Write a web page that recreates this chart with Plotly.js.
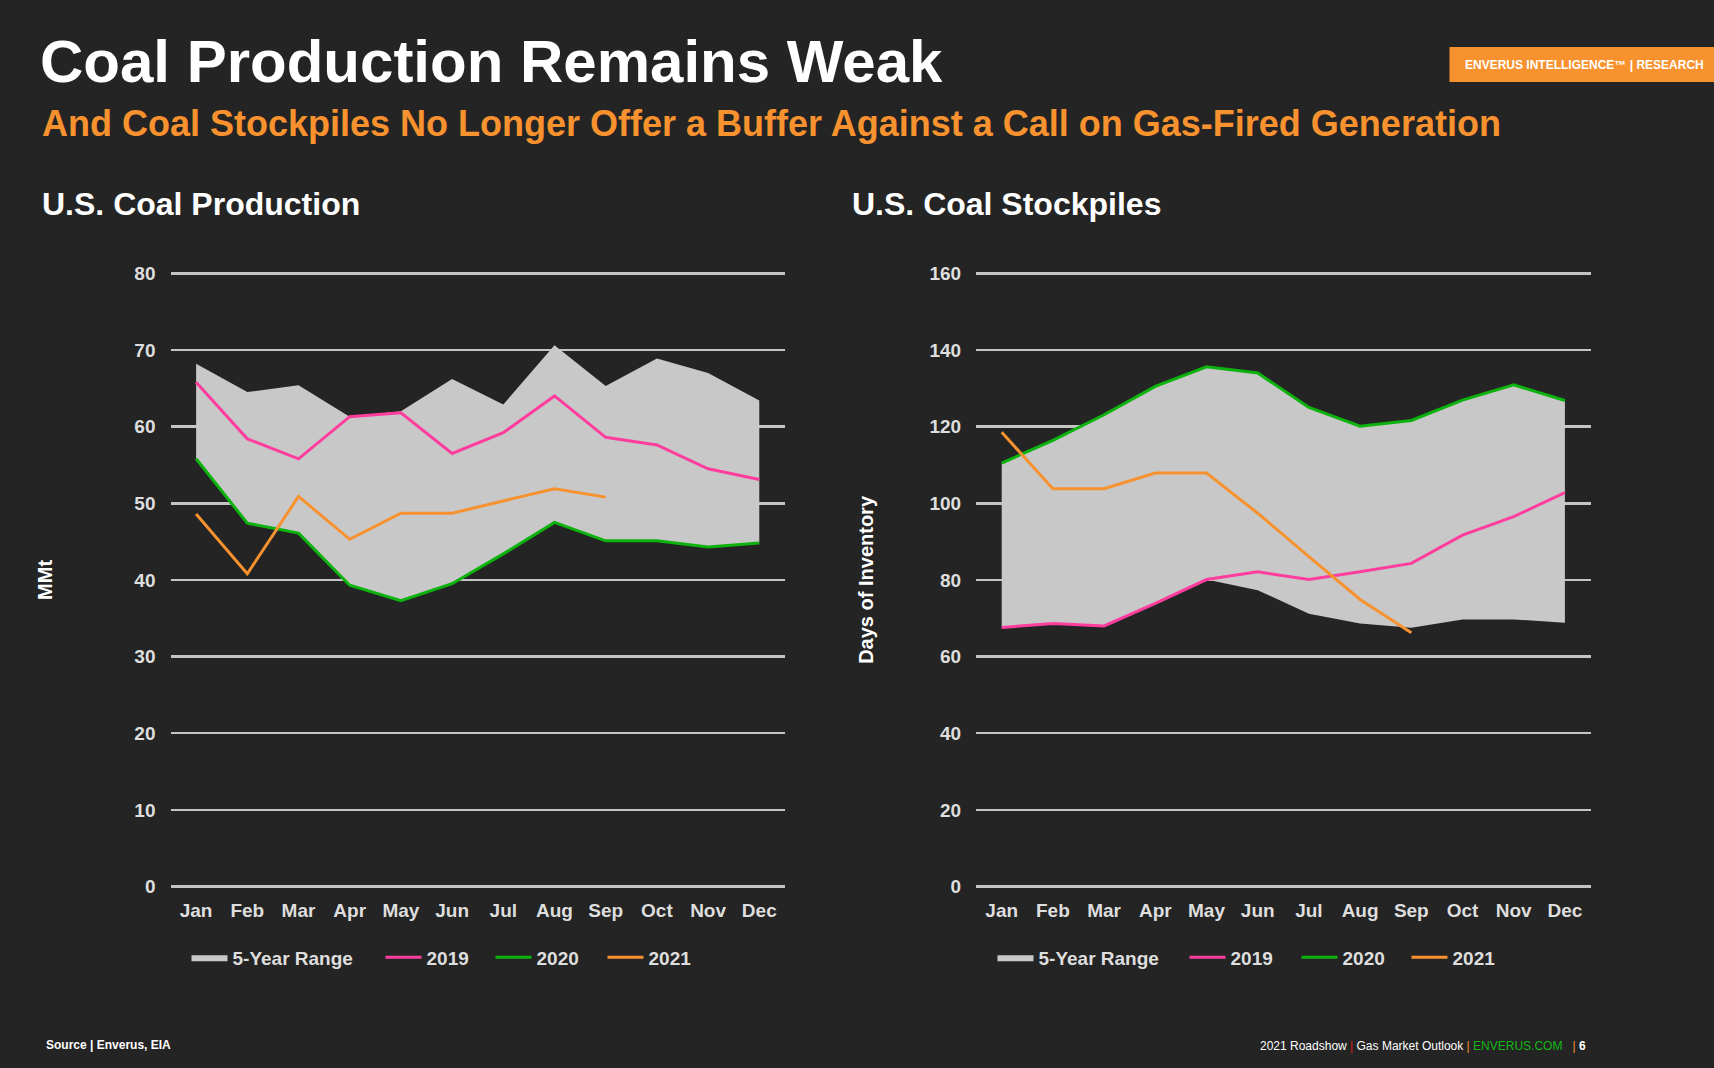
<!DOCTYPE html>
<html>
<head>
<meta charset="utf-8">
<script src="https://cdn.plot.ly/plotly-3.0.1.min.js"></script>
<style>
  html, body { margin: 0; padding: 0; background: #242424; }
  #chart { width: 1714px; height: 1068px; }
</style>
</head>
<body>
<div id="chart"></div>
<script>
// ---------- data ----------
const months = ['Jan','Feb','Mar','Apr','May','Jun','Jul','Aug','Sep','Oct','Nov','Dec'];

// U.S. Coal Production (MMt)
const prodRangeMin = [55.8, 47.4, 46.1, 39.3, 37.3, 39.5, 43.4, 47.5, 45.1, 45.1, 44.3, 44.8];
const prodRangeMax = [68.2, 64.5, 65.4, 61.3, 62.0, 66.2, 62.9, 70.6, 65.3, 68.9, 67.0, 63.4];
const prod2019 = [65.8, 58.4, 55.8, 61.3, 61.8, 56.5, 59.2, 64.0, 58.6, 57.6, 54.5, 53.1];
const prod2020 = [55.8, 47.4, 46.1, 39.3, 37.3, 39.5, 43.4, 47.5, 45.1, 45.1, 44.3, 44.8];
const prod2021 = [48.6, 40.8, 50.9, 45.3, 48.7, 48.7, 50.3, 51.9, 50.8];

// U.S. Coal Stockpiles (Days of Inventory)
const stockRangeMin = [67.6, 68.6, 68.0, 73.9, 80.1, 77.3, 71.2, 68.6, 67.5, 69.7, 69.7, 68.8];
const stockRangeMax = [110.5, 116.4, 123.1, 130.5, 135.6, 134.0, 125.0, 120.1, 121.6, 126.9, 130.9, 126.8];
const stock2019 = [67.6, 68.6, 68.0, 73.9, 80.1, 82.1, 80.1, 82.1, 84.3, 91.7, 96.5, 102.8];
const stock2020 = [110.5, 116.4, 123.1, 130.5, 135.6, 134.0, 125.0, 120.1, 121.6, 126.9, 130.9, 126.8];
const stock2021 = [118.5, 103.8, 103.8, 107.9, 107.9, 97.4, 86.1, 74.9, 66.2];

const prodTicks = [0, 10, 20, 30, 40, 50, 60, 70, 80];
const stockTicks = [0, 20, 40, 60, 80, 100, 120, 140, 160];
const seriesNames = ['5-Year Range', '2019', '2020', '2021'];

// ---------- styles ----------
const BG = '#242424';
const GRID = '#c4c4c4';
const RANGE = '#c8c8c8';
const PINK = '#ff3d9e';
const GREEN = '#0db30d';
const ORANGE = '#f7922f';
const FONT = 'Liberation Sans, Arial, sans-serif';
const TICKCOL = '#dedede';

function seriesTraces(xa, ya, legs, rmin, rmax, s19, s20, s21) {
  return [
    { x: months, y: rmin, xaxis: xa, yaxis: ya, type: 'scatter', mode: 'lines',
      line: { width: 0, color: RANGE }, showlegend: false, hoverinfo: 'skip' },
    { x: months, y: rmax, xaxis: xa, yaxis: ya, type: 'scatter', mode: 'lines',
      name: seriesNames[0], fill: 'tonexty', fillcolor: RANGE,
      line: { width: 0, color: RANGE }, legend: legs[0] },
    { x: months, y: s19, xaxis: xa, yaxis: ya, type: 'scatter', mode: 'lines',
      name: seriesNames[1], line: { color: PINK, width: 3 }, legend: legs[1] },
    { x: months, y: s20, xaxis: xa, yaxis: ya, type: 'scatter', mode: 'lines',
      name: seriesNames[2], line: { color: GREEN, width: 3 }, legend: legs[2] },
    { x: months.slice(0, s21.length), y: s21, xaxis: xa, yaxis: ya, type: 'scatter', mode: 'lines',
      name: seriesNames[3], line: { color: ORANGE, width: 3 }, legend: legs[3] }
  ];
}

const data = [].concat(
  seriesTraces('x', 'y', ['legend', 'legend2', 'legend3', 'legend4'], prodRangeMin, prodRangeMax, prod2019, prod2020, prod2021),
  seriesTraces('x2', 'y2', ['legend5', 'legend6', 'legend7', 'legend8'], stockRangeMin, stockRangeMax, stock2019, stock2020, stock2021)
);

// plot area: value 0 at y=886.5px, top tick at y=273.3px; half a unit padding so edge gridlines show
const yDomain = [0.16636, 0.74768];

function xAxis(domain, anchor) {
  return {
    domain: domain, anchor: anchor, type: 'category', range: [-0.5, 11.5],
    showgrid: false, zeroline: false, showline: false, ticks: '',
    tickfont: { family: FONT, size: 19, color: TICKCOL, weight: 'bold' },
    ticklabelstandoff: 7, fixedrange: true
  };
}
function yAxis(domain, anchor, range, ticks, title, standoff) {
  return {
    domain: domain, anchor: anchor, range: range, tickvals: ticks, ticktext: ticks.map(String),
    showgrid: true, gridcolor: GRID, gridwidth: 2.5, zeroline: false, showline: false, ticks: '',
    tickfont: { family: FONT, size: 19, color: TICKCOL, weight: 'bold' },
    ticklabelstandoff: 14,
    title: { text: title, font: { family: FONT, size: 20, color: '#ffffff', weight: 'bold' }, standoff: standoff },
    fixedrange: true
  };
}

function legendAt(px) {
  return {
    orientation: 'h', xanchor: 'left', yanchor: 'middle', y: 1 - 957.5 / 1068,
    x: (px - 4.5) / 1714,
    bgcolor: 'rgba(0,0,0,0)',
    font: { family: FONT, size: 19, color: TICKCOL, weight: 'bold' },
    itemwidth: 36, traceorder: 'normal'
  };
}

const layout = {
  width: 1714, height: 1068,
  paper_bgcolor: BG, plot_bgcolor: BG,
  margin: { l: 0, r: 0, t: 0, b: 0 },
  showlegend: true,
  xaxis: xAxis([0.09948, 0.45793], 'y'),
  yaxis: yAxis(yDomain, 'x', [-0.5, 80.5], prodTicks, 'MMt', 76),
  xaxis2: xAxis([0.56949, 0.92795], 'y2'),
  yaxis2: yAxis(yDomain, 'x2', [-1, 161], stockTicks, 'Days of Inventory', 50),
  legend: legendAt(191), legend2: legendAt(385), legend3: legendAt(495), legend4: legendAt(607),
  legend5: legendAt(997), legend6: legendAt(1189), legend7: legendAt(1301), legend8: legendAt(1411),
  title: {
    text: 'Coal Production Remains Weak',
    font: { family: FONT, size: 60, color: '#ffffff', weight: 'bold' },
    x: 40 / 1714, xanchor: 'left', xref: 'paper',
    y: 1 - 60.5 / 1068, yanchor: 'middle', yref: 'container'
  },
  shapes: [
    { type: 'rect', xref: 'paper', yref: 'paper',
      x0: 1449.5 / 1714, x1: 1, y0: 1 - 82 / 1068, y1: 1 - 47 / 1068,
      fillcolor: '#f7922f', line: { width: 0 } }
  ],
  annotations: [
    { text: 'And Coal Stockpiles No Longer Offer a Buffer Against a Call on Gas-Fired Generation',
      xref: 'paper', yref: 'paper', x: 40 / 1714, y: 1 - 123.5 / 1068, xanchor: 'left', yanchor: 'middle',
      showarrow: false, font: { family: FONT, size: 36, color: '#f7922f', weight: 'bold' } },
    { text: 'ENVERUS INTELLIGENCE™ | RESEARCH',
      xref: 'paper', yref: 'paper', x: 1584 / 1714, y: 1 - 64.5 / 1068, xanchor: 'center', yanchor: 'middle',
      showarrow: false, font: { family: FONT, size: 12, color: '#ffffff', weight: 'bold' } },
    { text: 'U.S. Coal Production',
      xref: 'paper', yref: 'paper', x: 40 / 1714, y: 1 - 204 / 1068, xanchor: 'left', yanchor: 'middle',
      showarrow: false, font: { family: FONT, size: 32, color: '#ffffff', weight: 'bold' } },
    { text: 'U.S. Coal Stockpiles',
      xref: 'paper', yref: 'paper', x: 850 / 1714, y: 1 - 204 / 1068, xanchor: 'left', yanchor: 'middle',
      showarrow: false, font: { family: FONT, size: 32, color: '#ffffff', weight: 'bold' } },
    { text: 'Source | Enverus, EIA',
      xref: 'paper', yref: 'paper', x: 43.7 / 1714, y: 1 - 1045 / 1068, xanchor: 'left', yanchor: 'middle',
      showarrow: false, font: { family: FONT, size: 12, color: '#ffffff', weight: 'bold' } },
    { text: '2021 Roadshow <span style="color:#e02020">|</span> Gas Market Outlook <span style="color:#f7922f">|</span> <span style="color:#14b814">ENVERUS.COM</span>   <span style="color:#f7922f">|</span> <b>6</b>',
      xref: 'paper', yref: 'paper', x: 1588 / 1714, y: 1 - 1046 / 1068, xanchor: 'right', yanchor: 'middle',
      showarrow: false, font: { family: FONT, size: 12, color: '#ffffff' } }
  ]
};

Plotly.newPlot('chart', data, layout, { displayModeBar: false, staticPlot: true });
</script>
</body>
</html>
